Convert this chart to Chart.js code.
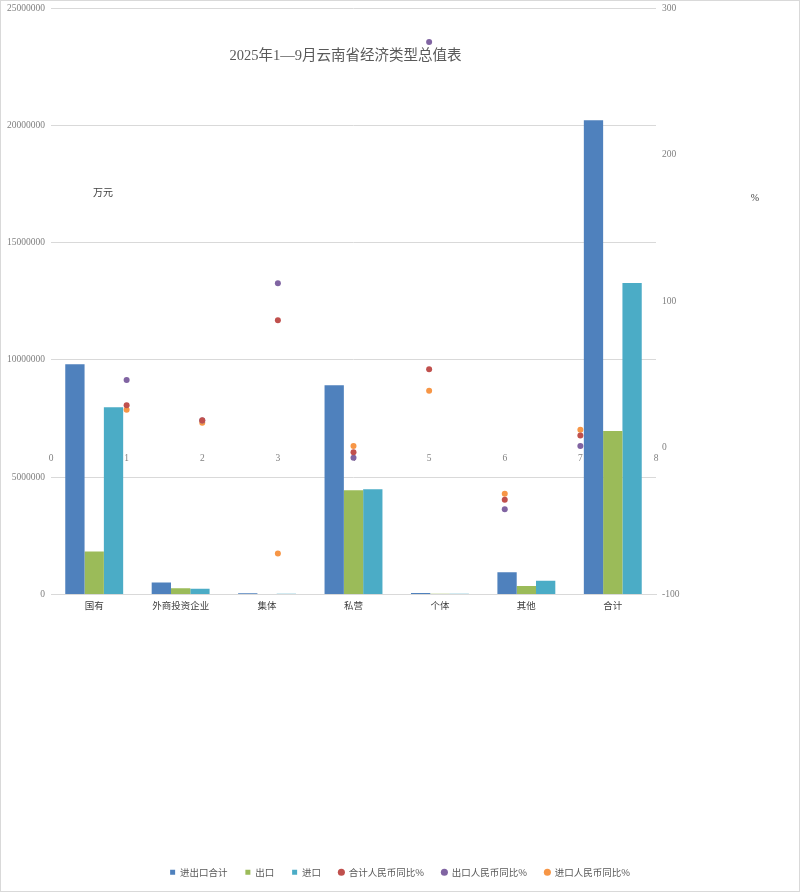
<!DOCTYPE html>
<html>
<head>
    <meta charset="utf-8">
    <title>2025年1—9月云南省经济类型总值表</title>
    <script src="https://cdn.jsdelivr.net/npm/chart.js"></script>
    <style>
        body { margin: 0; background: #fff; }
        #wrap { width: 800px; height: 892px; box-sizing: border-box; border: 1px solid #d9d9d9; position: relative; }
        .layer { position: absolute; left: 0; top: 0; width: 798px; height: 890px; }
    </style>
</head>
<body>
<div id="wrap">
    <div class="layer"><canvas id="barChart"></canvas></div>
    <div class="layer"><canvas id="pointChart"></canvas></div>
</div>
<script>
    // Категории и значения (万元, %)
    const categories = ['国有', '外商投资企业', '集体', '私营', '个体', '其他', '合计'];
    const totalValues = [9810000, 510000, 50000, 8920000, 60000, 950000, 20220000];
    const exportValues = [1830000, 270000, 20000, 4440000, 30000, 360000, 6970000];
    const importValues = [7980000, 240000, 30000, 4490000, 30000, 590000, 13280000];
    const totalYoY = [29, 18.8, 87, -2.9, 53.6, -35.4, 8.5];
    const exportYoY = [46.3, 18.6, 112.3, -6.7, 276.8, -41.8, 1.2];
    const importYoY = [26, 17.2, -72, 1.2, 39, -31.3, 12.4];

    const barNames = ['进出口合计', '出口', '进口'];
    const barColors = ['#4F81BD', '#9BBB59', '#4BACC6'];
    const pointNames = ['合计人民币同比%', '出口人民币同比%', '进口人民币同比%'];
    const pointColors = ['#C0504D', '#8064A2', '#F79646'];

    const serif = "'Liberation Serif', 'Noto Sans CJK SC', serif";
    const cjk = "'Noto Sans CJK SC', sans-serif";
    const tickFont = { family: serif, size: 9.5 };

    // точки на вспомогательной оси 0..8
    const toPoints = arr => arr.map((v, i) => ({ x: i + 1, y: v }));

    // подписи поверх области графика
    const textPlugin = {
        id: 'extraText',
        afterDraw(chart) {
            const { ctx, chartArea } = chart;
            ctx.save();
            ctx.textAlign = 'center';
            ctx.textBaseline = 'middle';
            ctx.fillStyle = '#595959';
            ctx.font = "14.5px " + serif;
            ctx.fillText('2025年1—9月云南省经济类型总值表', (chartArea.left + chartArea.right) / 2 - 8, chartArea.top + 48);
            ctx.fillStyle = '#404040';
            ctx.font = "10px " + cjk;
            ctx.fillText('万元', chartArea.left + 52, chartArea.top + 184);
            ctx.font = "10px " + serif;
            ctx.fillText('%', chartArea.right + 99, chartArea.top + 190);
            ctx.restore();
        }
    };

    // Столбцы + легенда (Chart.js 4.5 делит группу на число осей X, поэтому точки — отдельным слоем)
    const barChart = new Chart(document.getElementById('barChart'), {
        type: 'bar',
        data: {
            labels: categories,
            datasets: [totalValues, exportValues, importValues].map((vals, i) => ({
                label: barNames[i], data: vals, backgroundColor: barColors[i]
            }))
        },
        options: {
            responsive: true,
            maintainAspectRatio: false,
            animation: false,
            layout: { padding: { top: 0, bottom: 4 } },
            datasets: { bar: { barPercentage: 1, categoryPercentage: 0.67 } },
            plugins: {
                tooltip: { enabled: false },
                legend: {
                    position: 'bottom',
                    labels: {
                        usePointStyle: true,
                        boxWidth: 5,
                        boxHeight: 5,
                        padding: 18,
                        color: '#595959',
                        font: { family: cjk, size: 9.5 },
                        generateLabels() {
                            const bars = barNames.map((t, i) => ({ text: t, fillStyle: barColors[i], pointStyle: 'rect' }));
                            const pts = pointNames.map((t, i) => ({ text: t, fillStyle: pointColors[i], pointStyle: 'circle' }));
                            return bars.concat(pts).map(it => Object.assign(it, {
                                strokeStyle: it.fillStyle, lineWidth: 0, fontColor: '#595959'
                            }));
                        }
                    }
                }
            },
            scales: {
                x: {
                    type: 'category',
                    grid: { display: false, drawTicks: false },
                    border: { color: '#d9d9d9' },
                    ticks: { color: '#404040', font: { family: cjk, size: 9.5 }, padding: 5 },
                    afterFit(s) { s.height = 255; }
                },
                y: {
                    position: 'left',
                    min: 0,
                    max: 25000000,
                    ticks: { stepSize: 5000000, color: '#808080', font: tickFont, padding: 6, callback: v => String(v) },
                    grid: { color: '#d9d9d9', drawTicks: false },
                    border: { display: false },
                    afterFit(s) { s.width = 50; s.paddingTop = 7; s.paddingBottom = 0; }
                },
                y2: {
                    type: 'linear',
                    position: 'right',
                    min: -100,
                    max: 300,
                    ticks: { stepSize: 100, color: '#808080', font: tickFont, padding: 6 },
                    grid: { display: false, drawTicks: false },
                    border: { display: false },
                    afterFit(s) { s.width = 143; s.paddingTop = 7; s.paddingBottom = 0; }
                }
            }
        },
        plugins: [textPlugin]
    });

    // Точки (%): та же область графика, что и у столбцов
    const area = barChart.chartArea;
    new Chart(document.getElementById('pointChart'), {
        type: 'scatter',
        data: {
            datasets: [totalYoY, exportYoY, importYoY].map((vals, i) => ({
                label: pointNames[i], data: toPoints(vals),
                backgroundColor: pointColors[i], borderColor: pointColors[i],
                pointRadius: 3, pointBorderWidth: 0, xAxisID: 'x2', yAxisID: 'y2'
            }))
        },
        options: {
            responsive: true,
            maintainAspectRatio: false,
            animation: false,
            layout: {
                padding: {
                    left: area.left,
                    top: area.top,
                    right: barChart.width - area.right,
                    bottom: barChart.height - area.bottom
                }
            },
            plugins: { legend: { display: false }, tooltip: { enabled: false } },
            scales: {
                y2: { type: 'linear', min: -100, max: 300, display: false },
                x2: {
                    type: 'linear',
                    position: { y2: 0 },
                    min: 0,
                    max: 8,
                    ticks: { stepSize: 1, color: '#808080', font: tickFont, padding: 5 },
                    grid: { display: false, drawTicks: false },
                    border: { display: false }
                }
            }
        }
    });
</script>
</body>
</html>
